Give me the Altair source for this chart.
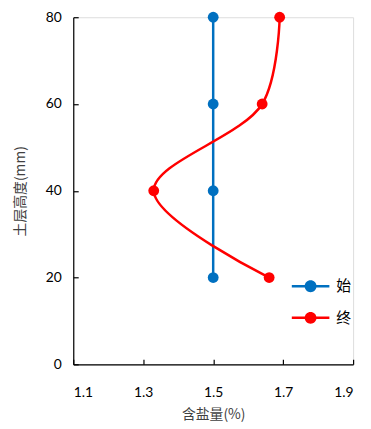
import altair as alt
import pandas as pd

heights = [20, 40, 60, 80]
series_start = [1.5, 1.5, 1.5, 1.5]
series_end = [1.66, 1.33, 1.64, 1.69]
series_names = ["始", "终"]
series_colors = ["#0070C0", "#FF0000"]
x_ticks = [1.1, 1.3, 1.5, 1.7, 1.9]
y_ticks = [0, 20, 40, 60, 80]

rows = []
for h, v in zip(heights, series_start):
    rows.append({"series": series_names[0], "height": h, "salt": v})
for h, v in zip(heights, series_end):
    rows.append({"series": series_names[1], "height": h, "salt": v})
df = pd.DataFrame(rows)

NUM_FONT = "Lato"
CJK_FONT = "Noto Sans CJK SC"

xscale = alt.Scale(domain=[1.1, 1.9], nice=False, zero=False)
yscale = alt.Scale(domain=[0, 80], nice=False)
cscale = alt.Scale(domain=series_names, range=series_colors)

legend_path = (
    "M-1,-0.066 L1,-0.066 L1,0.066 L-1,0.066 Z "
    "M0.316,0 A0.316,0.316 0 1 1 -0.316,0 A0.316,0.316 0 1 1 0.316,0 Z"
)
legend = alt.Legend(
    title=None, orient="none", legendX=221, legendY=253,
    symbolType=legend_path, symbolSize=1444, symbolStrokeWidth=0,
    symbolOpacity=1,
    labelFont=CJK_FONT, labelFontSize=15, labelColor="#000000",
    labelOffset=7, rowPadding=5,
)

# Layer 1: the visible axes (domain, labels, titles), no ticks
line = alt.Chart(df).mark_line(interpolate="catmull-rom", strokeWidth=2.5).encode(
    x=alt.X(
        "salt:Q", scale=xscale,
        axis=alt.Axis(
            values=x_ticks, format=".1f", ticks=False, grid=False,
            domainColor="black", domainWidth=1.2,
            labelFont=NUM_FONT, labelFontSize=14, labelColor="#000000",
            labelPadding=22,
            title="含盐量(%)", titleFont=CJK_FONT, titleFontSize=14,
            titleFontWeight="normal", titleColor="#404040", titlePadding=8,
        ),
    ),
    y=alt.Y(
        "height:Q", scale=yscale,
        axis=alt.Axis(
            values=y_ticks, ticks=False, grid=False,
            domainColor="black", domainWidth=1.2,
            labelFont=NUM_FONT, labelFontSize=14, labelColor="#000000",
            labelPadding=12,
            title="土层高度(mm)", titleFont=CJK_FONT, titleFontSize=14,
            titleFontWeight="normal", titleColor="#404040", titlePadding=18,
        ),
    ),
    color=alt.Color("series:N", scale=cscale, legend=legend),
    order=alt.Order("height:Q"),
    detail="series:N",
)

# Layer 2: points, with inward ticks drawn by offset axes
points = alt.Chart(df).mark_point(filled=True, size=120, opacity=1).encode(
    x=alt.X(
        "salt:Q", scale=xscale,
        axis=alt.Axis(
            values=x_ticks, orient="bottom", offset=-5, domain=False,
            labels=False, title=None, grid=False,
            ticks=True, tickSize=5, tickColor="black", tickWidth=1.2,
        ),
    ),
    y=alt.Y(
        "height:Q", scale=yscale,
        axis=alt.Axis(
            values=y_ticks, orient="left", offset=-5, domain=False,
            labels=False, title=None, grid=False,
            ticks=True, tickSize=5, tickColor="black", tickWidth=1.2,
        ),
    ),
    color=alt.Color("series:N", scale=cscale, legend=legend),
)

chart = (
    alt.layer(line, points)
    .resolve_axis(x="independent", y="independent")
    .properties(
        width=283, height=351,
        autosize=alt.AutoSizeParams(type="none"),
        padding={"left": 66, "top": 7, "right": 10, "bottom": 56},
    )
    .configure_view(strokeWidth=0, stroke="transparent")
    .configure(background="white")
)

chart.save("out.html", embed_options={"renderer": "svg", "actions": False})
